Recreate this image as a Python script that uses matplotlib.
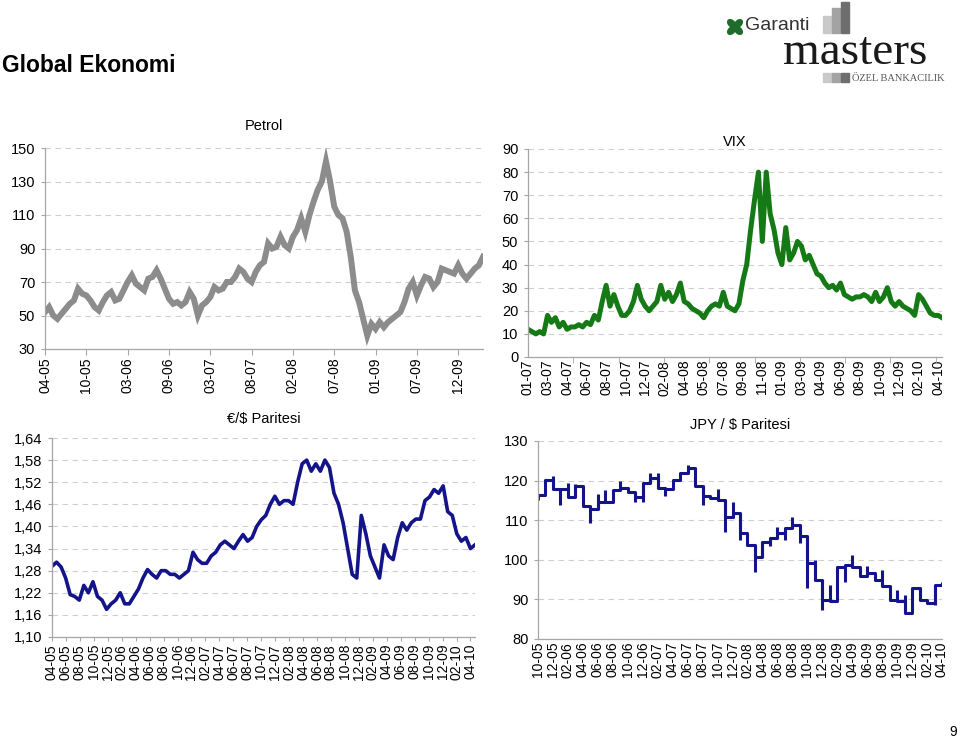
import numpy as np
import matplotlib.pyplot as plt
from matplotlib.patches import Rectangle, Ellipse

plt.rcParams['font.family'] = ['Liberation Sans', 'DejaVu Sans']

# --- data ---
petrol = [52, 55, 50, 48, 51, 54, 57, 59, 66, 63,
          62, 59, 55, 53, 58, 62, 64, 59, 60, 65,
          70, 74, 69, 67, 65, 72, 73, 77, 72, 66,
          60, 57, 58, 56, 58, 64, 60, 50, 56, 58,
          61, 67, 65, 66, 70, 70, 73, 78, 76, 72,
          70, 76, 80, 82, 93, 90, 91, 97, 92, 90,
          97, 101, 108, 100, 110, 118, 125, 130, 142, 130,
          115, 110, 108, 100, 85, 65, 58, 48, 38, 45,
          42, 46, 43, 46, 48, 50, 52, 58, 66, 70,
          62, 68, 73, 72, 67, 70, 78, 77, 76, 75,
          80, 75, 72, 75, 78, 80, 85]
petrol_labels = ['04-05', '10-05', '03-06', '09-06', '03-07', '08-07',
                 '02-08', '07-08', '01-09', '07-09', '12-09']
petrol_yticks = [30, 50, 70, 90, 110, 130, 150]

vix = [12, 11, 10, 11, 10, 18, 15, 17, 13, 15,
       12, 13, 13, 14, 13, 15, 14, 18, 16, 24,
       31, 22, 27, 22, 18, 18, 20, 24, 31, 25,
       22, 20, 22, 24, 31, 25, 28, 24, 27, 32,
       24, 23, 21, 20, 19, 17, 20, 22, 23, 22,
       28, 22, 21, 20, 23, 33, 40, 55, 68, 80,
       50, 80, 62, 55, 45, 40, 56, 42, 45, 50,
       48, 42, 44, 40, 36, 35, 32, 30, 31, 29,
       32, 27, 26, 25, 26, 26, 27, 26, 24, 28,
       24, 26, 30, 24, 22, 24, 22, 21, 20, 18,
       27, 25, 22, 19, 18, 18, 17]
vix_labels = ['01-07', '03-07', '04-07', '06-07', '08-07', '10-07', '12-07',
              '02-08', '04-08', '05-08', '07-08', '09-08', '11-08', '01-09',
              '03-09', '04-09', '06-09', '08-09', '10-09', '12-09', '02-10', '04-10']
vix_yticks = [0, 10, 20, 30, 40, 50, 60, 70, 80, 90]

eur = [1.292, 1.303, 1.29, 1.26, 1.215, 1.21, 1.20, 1.24, 1.22, 1.25,
       1.21, 1.20, 1.175, 1.19, 1.20, 1.22, 1.19, 1.19, 1.21, 1.23,
       1.26, 1.283, 1.27, 1.26, 1.28, 1.28, 1.27, 1.27, 1.26, 1.27,
       1.28, 1.33, 1.31, 1.30, 1.30, 1.32, 1.33, 1.35, 1.36, 1.35,
       1.34, 1.36, 1.378, 1.36, 1.37, 1.40, 1.418, 1.43, 1.46, 1.482,
       1.46, 1.47, 1.47, 1.46, 1.52, 1.57, 1.58, 1.55, 1.57, 1.55,
       1.58, 1.56, 1.49, 1.46, 1.41, 1.34, 1.27, 1.26, 1.43, 1.38,
       1.32, 1.29, 1.26, 1.35, 1.32, 1.31, 1.37, 1.41, 1.39, 1.41,
       1.42, 1.42, 1.47, 1.48, 1.50, 1.49, 1.51, 1.44, 1.43, 1.38,
       1.36, 1.37, 1.34, 1.35]
eur_labels = ['04-05', '06-05', '08-05', '10-05', '12-05', '02-06', '04-06',
              '06-06', '08-06', '10-06', '12-06', '02-07', '04-07', '06-07',
              '08-07', '10-07', '12-07', '02-08', '04-08', '06-08', '08-08',
              '10-08', '12-08', '02-09', '04-09', '06-09', '08-09', '10-09',
              '12-09', '02-10', '04-10']
eur_yticks = [1.10, 1.16, 1.22, 1.28, 1.34, 1.40, 1.46, 1.52, 1.58, 1.64]

# monthly levels and the spikes seen at each month change
jpy_level = [116.4, 120.2, 117.8, 117.8, 115.8, 118.6, 113.6, 112.8, 114.7, 114.7,
             117.6, 118.1, 117.0, 115.8, 119.3, 120.6, 118.1, 117.8, 120.2, 122.0,
             123.1, 118.6, 116.1, 115.5, 115.1, 110.9, 111.8, 106.7, 103.8, 100.8,
             104.6, 105.5, 106.7, 108.0, 108.8, 105.9, 99.2, 95.0, 89.9, 89.5,
             98.3, 98.7, 98.3, 95.8, 96.6, 95.0, 93.3, 89.9, 89.5, 86.6,
             92.9, 89.9, 89.1, 93.7]
jpy_spike = [115.0, None, 121.2, 113.9, 119.3, 119.2, None, 109.4, 116.5, 117.6,
             None, 120.0, None, 114.5, 114.7, 121.8, 122.0, 116.0, None, None,
             124.0, None, 113.9, None, 117.8, 107.1, 114.5, 105.0, None, 97.0,
             101.0, 103.4, 108.4, 105.0, 110.9, 104.2, 92.9, 100.0, 87.4, 93.7,
             None, 94.5, 101.3, None, 98.5, None, 97.5, None, 92.4, 91.2,
             None, 92.5, None, 88.5, 94.5]
jpy_labels = ['10-05', '12-05', '02-06', '04-06', '06-06', '08-06', '10-06',
              '12-06', '02-07', '04-07', '06-07', '08-07', '10-07', '12-07',
              '02-08', '04-08', '06-08', '08-08', '10-08', '12-08', '02-09',
              '04-09', '06-09', '08-09', '10-09', '12-09', '02-10', '04-10']
jpy_yticks = [80, 90, 100, 110, 120, 130]

W, H = 960, 742
fig = plt.figure(figsize=(W / 100, H / 100), dpi=100)


def add_ax(l, t, r, b):
    return fig.add_axes([l / W, 1 - b / H, (r - l) / W, (b - t) / H])


def style(ax, yticks, ylabels, title, pad):
    ax.set_yticks(yticks, ylabels)
    ax.set_ylim(yticks[0], yticks[-1])
    ax.grid(axis='y', color='#cfcfcf', linestyle=(0, (5, 4)), linewidth=0.8)
    ax.set_axisbelow(True)
    for s in ['top', 'right']:
        ax.spines[s].set_visible(False)
    for s in ['left', 'bottom']:
        ax.spines[s].set_color('#a6a6a6')
        ax.spines[s].set_linewidth(0.9)
    ax.tick_params(axis='y', length=3, color='#a6a6a6', labelsize=10.5, pad=4)
    ax.tick_params(axis='x', which='both', color='#a6a6a6', labelsize=10,
                   labelrotation=90, pad=2)
    ax.set_title(title, fontsize=10.5, pad=pad)


# Petrol
ax1 = add_ax(45, 148, 483, 349)
ax1.plot(np.arange(len(petrol)), petrol, color='#8c8c8c', lw=4.3,
         solid_joinstyle='miter')
ax1.set_xlim(0, len(petrol) - 1)
ax1.set_xticks(np.arange(len(petrol_labels)) * 10, petrol_labels)
ax1.tick_params(axis='x', length=4)
style(ax1, petrol_yticks, [str(v) for v in petrol_yticks], 'Petrol', 13)

# VIX
ax2 = add_ax(528, 149, 942, 357)
ax2.plot(np.arange(len(vix)), vix, color='#157a15', lw=3.6)
ax2.set_xlim(0, len(vix) - 1)
ax2.set_xticks(np.arange(len(vix_labels)) * 5, vix_labels)
ax2.set_xticks(np.arange(0, len(vix), 11.6), minor=True)
ax2.tick_params(axis='x', which='major', length=0)
ax2.tick_params(axis='x', which='minor', length=4)
style(ax2, vix_yticks, [str(v) for v in vix_yticks], 'VIX', 2)

# EUR/USD
ax3 = add_ax(52, 438, 475, 637)
ax3.plot(np.arange(len(eur)), eur, color='#14148a', lw=2.6)
ax3.set_xlim(0, len(eur) - 1)
ax3.set_xticks(np.linspace(0, len(eur) - 2, len(eur_labels)), eur_labels)
ax3.tick_params(axis='x', length=3)
style(ax3, eur_yticks, [f'{v:.2f}'.replace('.', ',') for v in eur_yticks],
      '€/$ Paritesi', 11)

# JPY/USD
ax4 = add_ax(538, 441, 942, 639)
xb = np.arange(len(jpy_level) + 1)
ax4.step(xb, jpy_level + [jpy_level[-1]], where='post', color='#14148a', lw=2.2)
for i, sp in enumerate(jpy_spike):
    if sp is None:
        continue
    vals = [sp, jpy_level[min(i, len(jpy_level) - 1)]]
    if i > 0:
        vals.append(jpy_level[i - 1])
    ax4.vlines(i, min(vals), max(vals), color='#14148a', lw=2.2)
ax4.set_xlim(0, len(jpy_level))
ax4.set_xticks(np.arange(len(jpy_labels)) * 2, jpy_labels)
ax4.tick_params(axis='x', length=0)
style(ax4, jpy_yticks, [str(v) for v in jpy_yticks], 'JPY / $ Paritesi', 9)

# --- page header, logo, page number ---
deco = fig.add_axes([0, 0, 1, 1], zorder=-1)
deco.set_xlim(0, W)
deco.set_ylim(H, 0)
deco.axis('off')

deco.text(2, 65, 'Global Ekonomi', fontsize=16.5, fontweight='bold',
          va='center', ha='left')

for ang, dx, dy in [(45, -3.5, -3.5), (-45, 3.5, -3.5), (-45, -3.5, 3.5), (45, 3.5, 3.5)]:
    deco.add_patch(Ellipse((735 + dx, 27 + dy), 9, 6, angle=ang, color='#1f6b2a'))
deco.text(745, 26, 'Garanti', fontsize=14, color='#333333', va='center', ha='left')
deco.text(783, 64, 'masters', fontsize=34, family='Liberation Serif',
          color='#1a1a1a', va='baseline', ha='left')
for x0, y0, c in [(823, 16, '#c9c9c9'), (832, 8, '#a3a3a3'), (841, 2, '#6e6e6e')]:
    deco.add_patch(Rectangle((x0, y0), 8, 33 - y0, color=c))
for x0, c in [(823, '#c9c9c9'), (832, '#a3a3a3'), (841, '#6e6e6e')]:
    deco.add_patch(Rectangle((x0, 73), 8, 9, color=c))
deco.text(852, 81, 'ÖZEL BANKACILIK', fontsize=7.5, family='Liberation Serif',
          color='#555555', va='baseline', ha='left')

deco.text(953, 732, '9', fontsize=10, ha='center', va='center')

fig.savefig('out.png', dpi=100)
